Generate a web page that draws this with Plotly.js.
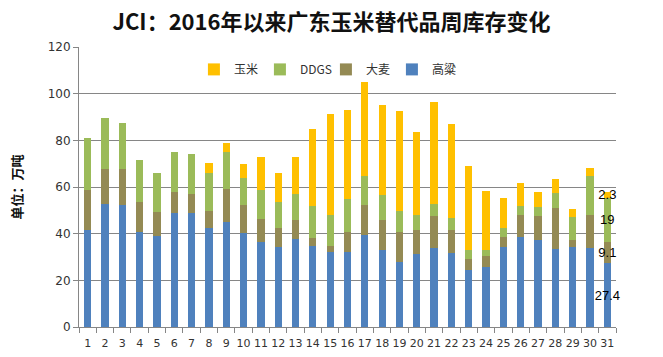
<!DOCTYPE html>
<html><head><meta charset="utf-8">
<script src="https://cdn.plot.ly/plotly-3.0.1.min.js"></script>
<style>body{margin:0;background:#fff}#c{width:663px;height:357px}</style>
</head><body><div id="c"></div>
<script>
var weeks = ['1','2','3','4','5','6','7','8','9','10','11','12','13','14','15','16','17','18','19','20','21','22','23','24','25','26','27','28','29','30','31'];
var gaoliang = [41.7,52.8,52.3,40.7,39.1,48.9,48.9,42.3,45.1,40.3,36.6,34.1,37.8,34.8,32.0,32.1,39.3,33.1,27.7,31.3,34.0,31.6,24.6,25.6,34.1,38.6,37.1,33.6,34.4,34.0,27.4];
var damai    = [17.1,15.0,15.5,13.0,10.0,9.1,8.2,7.6,14.2,12.1,9.8,8.2,7.9,3.5,2.8,8.6,13.1,12.6,13.1,10.4,13.4,10.1,4.7,5.0,4.3,9.5,10.3,17.3,3.0,13.8,9.1];
var ddgs     = [22.3,21.9,19.8,18.0,17.0,17.1,17.2,16.1,15.8,11.3,12.4,11.4,11.3,13.7,13.3,14.3,12.2,11.0,9.0,6.1,5.4,5.1,3.7,2.5,3.9,3.9,3.9,6.7,9.6,17.1,19.0];
var yumi     = [0,0,0,0,0,0,0,4.3,3.9,6.3,14.2,12.4,16.0,33.0,43.3,38.1,40.5,38.3,42.9,35.6,43.8,40.3,36.1,25.3,13.2,9.8,6.7,5.7,3.7,3.1,2.3];
var labelWeek = '31';

function lbl(arr){ return arr.map(function(v,i){ return weeks[i]===labelWeek ? String(v) : ''; }); }
function tr(name, vals, color){
  return {type:'bar', name:name, x:weeks, y:vals, marker:{color:color},
    text:lbl(vals), textposition:'inside', insidetextanchor:'middle', textangle:0,
    constraintext:'none', cliponaxis:false,
    textfont:{family:'Liberation Sans, Arial, sans-serif', size:13, color:'#000'},
    hoverinfo:'y+name'};
}
var data = [
  tr('高粱', gaoliang, '#4F81BD'),
  tr('大麦', damai, '#948A54'),
  tr('DDGS', ddgs, '#9BBB59'),
  tr('玉米', yumi, '#FFC000')
];
var layout = {
  width:663, height:357, barmode:'stack', bargap:0.58,
  margin:{l:79, r:47, t:47, b:30},
  paper_bgcolor:'#fff', plot_bgcolor:'#fff',
  font:{family:'DejaVu Sans, "Noto Sans CJK SC", sans-serif', size:11, color:'#333'},
  title:{text:'JCI：2016年以来广东玉米替代品周库存变化', x:0.5, xanchor:'center', y:0.938, yref:'container', yanchor:'middle',
    font:{family:'"Noto Sans CJK SC", sans-serif', size:22, color:'#111', weight:'bold'}},
  showlegend:true,
  legend:{orientation:'h', traceorder:'reversed', x:0.214, y:0.92, xanchor:'left', yanchor:'middle',
    font:{family:'"Noto Sans CJK SC", DejaVu Sans, sans-serif', size:12, color:'#333'},
    bgcolor:'rgba(0,0,0,0)', itemwidth:30, entrywidth:21, entrywidthmode:'pixels'},
  xaxis:{type:'category', showline:true, linecolor:'#868686', linewidth:1, ticks:'outside', tickson:'boundaries',
    ticklen:5, tickcolor:'#868686', showgrid:false, tickangle:0, ticklabelstandoff:6,
    tickfont:{size:11, color:'#333'}, fixedrange:true},
  yaxis:{range:[0,120], dtick:20, showline:true, linecolor:'#868686', ticks:'outside', ticklen:5, tickcolor:'#868686',
    showgrid:true, gridcolor:'#868686', gridwidth:1, zeroline:false, tickfont:{size:12, color:'#333'},
    title:{text:'单位：万吨', standoff:22, font:{family:'"Noto Sans CJK SC", sans-serif', size:13, color:'#111', weight:'bold'}}}
};
Plotly.newPlot('c', data, layout, {displayModeBar:false, staticPlot:true});
</script></body></html>
